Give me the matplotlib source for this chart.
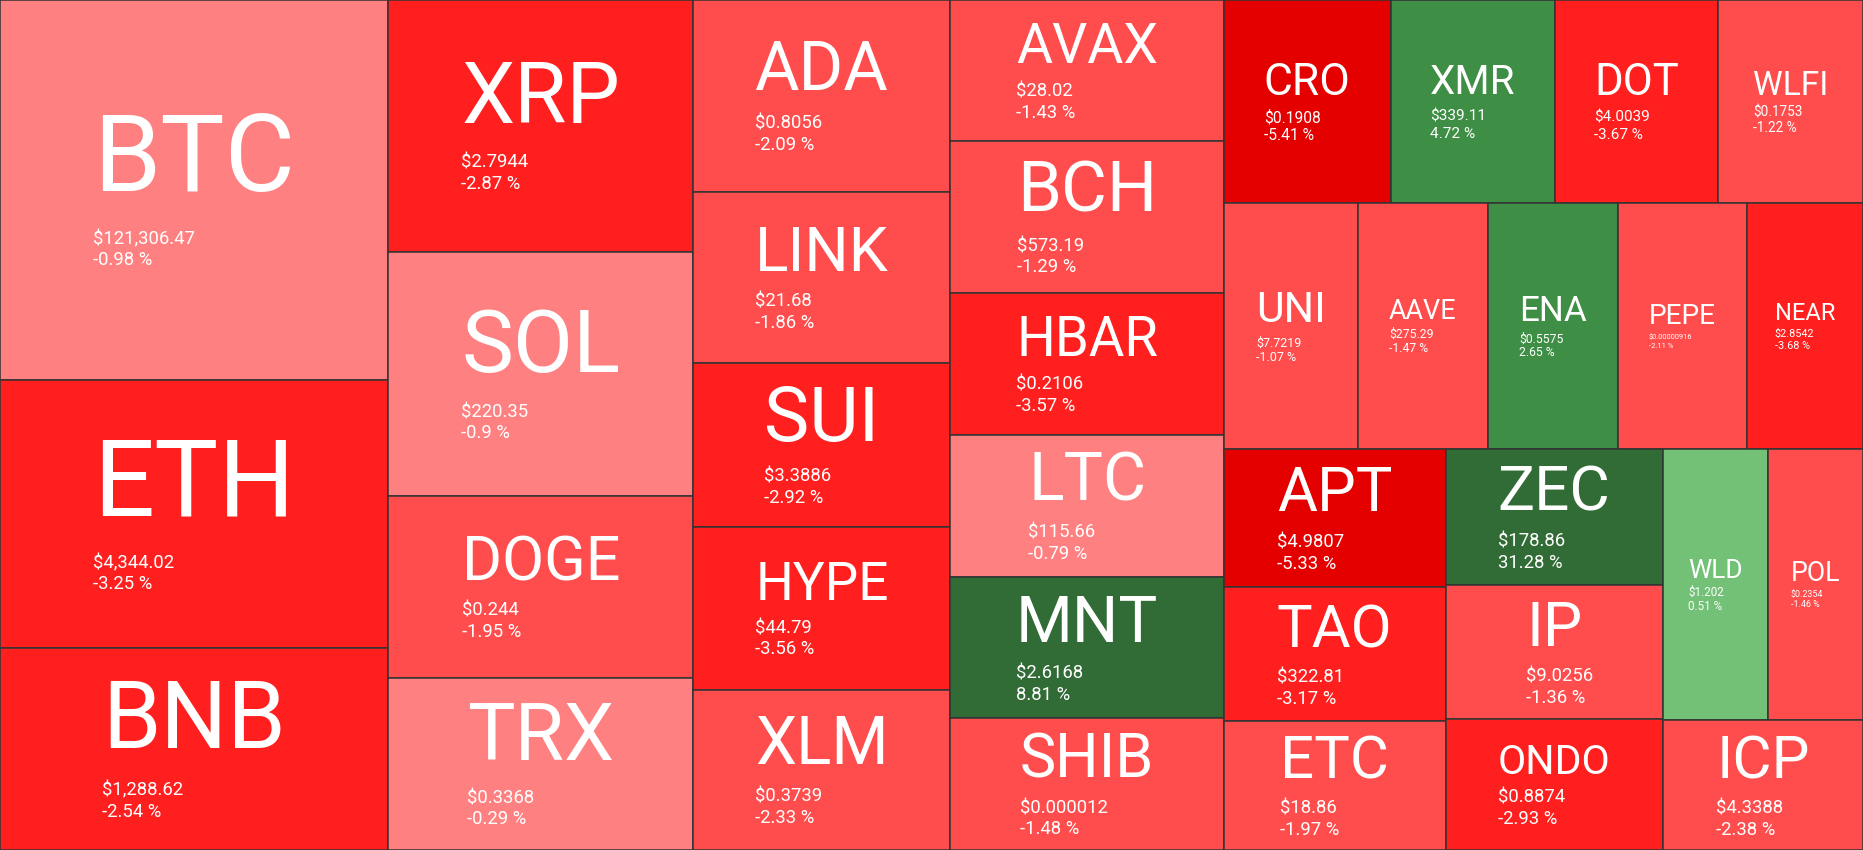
import matplotlib
matplotlib.use("Agg")
import matplotlib.pyplot as plt
from matplotlib.patches import Rectangle

plt.rcParams['font.family'] = ['Roboto', 'DejaVu Sans']

# coins in layout order, with their share of the map (area)
tickers = ["BTC", "ETH", "BNB",
           "XRP", "SOL", "DOGE", "TRX",
           "ADA", "LINK", "SUI", "HYPE", "XLM",
           "AVAX", "BCH", "HBAR", "LTC", "MNT", "SHIB",
           "CRO", "XMR", "DOT", "WLFI",
           "UNI", "AAVE", "ENA", "PEPE", "NEAR",
           "APT", "TAO", "ETC",
           "ZEC", "IP", "ONDO",
           "WLD", "POL",
           "ICP"]
prices = ["$121,306.47", "$4,344.02", "$1,288.62",
          "$2.7944", "$220.35", "$0.244", "$0.3368",
          "$0.8056", "$21.68", "$3.3886", "$44.79", "$0.3739",
          "$28.02", "$573.19", "$0.2106", "$115.66", "$2.6168", "$0.000012",
          "$0.1908", "$339.11", "$4.0039", "$0.1753",
          "$7.7219", "$275.29", "$0.5575", "$0.00000916", "$2.8542",
          "$4.9807", "$322.81", "$18.86",
          "$178.86", "$9.0256", "$0.8874",
          "$1.202", "$0.2354",
          "$4.3388"]
changes = [-0.98, -3.25, -2.54,
           -2.87, -0.9, -1.95, -0.29,
           -2.09, -1.86, -2.92, -3.56, -2.33,
           -1.43, -1.29, -3.57, -0.79, 8.81, -1.48,
           -5.41, 4.72, -3.67, -1.22,
           -1.07, -1.47, 2.65, -2.11, -3.68,
           -5.33, -3.17, -1.97,
           31.28, -1.36, -2.93,
           0.51, -1.46,
           -2.38]
weights = [147.4, 104.0, 78.4,
           76.9, 74.4, 55.5, 52.5,
           49.3, 43.9, 42.1, 41.9, 41.1,
           38.5, 41.5, 38.8, 38.8, 38.5, 36.0,
           33.9, 33.4, 33.1, 29.4,
           33.0, 32.0, 32.0, 31.7, 28.5,
           30.6, 29.7, 28.6,
           29.5, 29.1, 28.4,
           28.5, 25.7,
           26.0]
# how many coins go in each strip of the squarified layout
strips = [3, 4, 5, 6, 4, 5, 3, 3, 2, 1]

W, H = 1863, 850
DPI = 100
PT = 72 / DPI
CAP = 0.711


def shade(c):
    if c < -5:
        return "#e50000"
    if c < -2.5:
        return "#ff1f1f"
    if c < -1:
        return "#ff4d4d"
    if c < 0:
        return "#ff8080"
    if c < 1:
        return "#72c177"
    if c < 5:
        return "#3e8f45"
    return "#316b35"


def layout(vals, groups, x, y, w, h):
    # each strip runs along the shorter side of what is left
    rects = []
    left = sum(vals)
    i = 0
    for n in groups:
        part = vals[i:i + n]
        s = sum(part)
        if w >= h:
            cw = w * s / left
            yy = y
            for v in part:
                ch = h * v / s
                rects.append((x, yy, cw, ch))
                yy += ch
            x += cw
            w -= cw
        else:
            rh = h * s / left
            xx = x
            for v in part:
                cw = w * v / s
                rects.append((xx, y, cw, rh))
                xx += cw
            y += rh
            h -= rh
        left -= s
        i += n
    return rects


fig = plt.figure(figsize=(W / DPI, H / DPI), dpi=DPI)
ax = fig.add_axes([0, 0, 1, 1])
ax.set_xlim(0, W)
ax.set_ylim(H, 0)
ax.axis("off")
renderer = fig.canvas.get_renderer()


def text_width(s, px):
    t = ax.text(0, 0, s, fontsize=px * PT)
    wd = t.get_window_extent(renderer).width
    t.remove()
    return wd


rects = layout(weights, strips, 0, 0, W, H)

for name, price, chg, (x, y, w, h) in zip(tickers, prices, changes, rects):
    ax.add_patch(Rectangle((x, y), w, h, facecolor=shade(chg),
                           edgecolor="#333333", linewidth=1.1))
    label = f"{chg} %"
    fs_t = min(0.52 * w / text_width(name, 100) * 100, 0.33 * h / CAP)
    fs_p = min(18.5, 0.34 * w / max(text_width(price, 100),
                                    text_width(label, 100)) * 100)
    cap_t = CAP * fs_t
    cap_p = CAP * fs_p
    block = 1.52 * cap_t + cap_p + 1.15 * fs_p
    base_t = y + (h - block) / 2 + cap_t
    base_p = base_t + 0.52 * cap_t + cap_p
    base_c = base_p + 1.15 * fs_p
    cx = x + w / 2
    tx = cx - text_width(name, fs_t) / 2
    ax.text(cx, base_t, name, fontsize=fs_t * PT, color="white",
            ha="center", va="baseline")
    ax.text(tx, base_p, price, fontsize=fs_p * PT, color="white",
            ha="left", va="baseline")
    ax.text(tx, base_c, label, fontsize=fs_p * PT, color="white",
            ha="left", va="baseline")

fig.savefig("out.png", dpi=DPI)
